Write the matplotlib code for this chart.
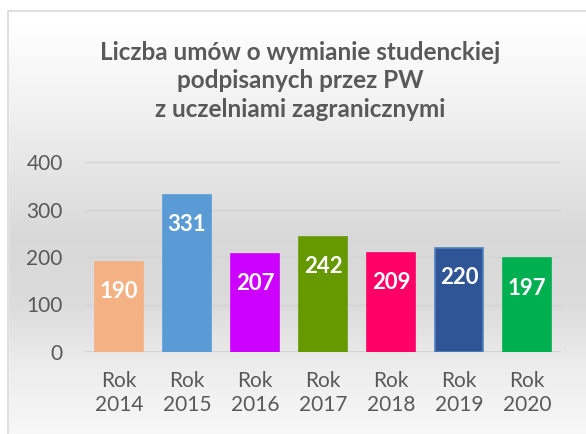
import numpy as np
import matplotlib
matplotlib.use("Agg")
import matplotlib.pyplot as plt
from matplotlib.patches import Rectangle

plt.rcParams['font.family'] = ['Lato', 'DejaVu Sans']

years = ["Rok\n2014", "Rok\n2015", "Rok\n2016", "Rok\n2017", "Rok\n2018", "Rok\n2019", "Rok\n2020"]
values = [190, 331, 207, 242, 209, 220, 197]
colors = ["#F4B183", "#5B9BD5", "#CC00FF", "#669900", "#FF0066", "#2F5597", "#00B050"]
edges = ["#F4B183", "#5B9BD5", "#CC00FF", "#669900", "#FF0066", "#4F81BD", "#00B050"]
title = "Liczba umów o wymianie studenckiej\npodpisanych przez PW\nz uczelniami zagranicznymi"

W, H = 586, 434
fig = plt.figure(figsize=(W / 100, H / 100), dpi=100)

# background gradient
bg = fig.add_axes([0, 0, 1, 1], zorder=0)
ys = np.linspace(0, 1, 400)  # 0 = top
stops_y = [0.0, 0.06, 0.30, 0.55, 0.70, 0.85, 1.0]
stops_v = [1.0, 1.0, 0.93, 0.85, 0.86, 0.93, 0.97]
vals = np.interp(ys, stops_y, stops_v)
img = np.repeat(vals[:, None], 2, axis=1)
bg.imshow(np.dstack([img, img, img]), aspect='auto', extent=[0, 1, 0, 1], interpolation='bilinear')
bg.set_xlim(0, 1); bg.set_ylim(0, 1)
bg.axis('off')
bg.add_patch(Rectangle((0, 1 - 11 / H), 1, 11 / H, color='white', zorder=2))
bg.add_patch(Rectangle((0, 0), 8 / W, 1, color='white', zorder=2))
bg.add_patch(Rectangle((8 / W, -0.1), 1.2, 1 - 11 / H + 0.1, fill=False, edgecolor='#d9d9d9', lw=1.2, zorder=3))

# main axes: x from 85 to 561 px, y 0 at 352 px, 400 at 162 px
left, right = 85 / W, 561 / W
bottom, top = 1 - 352 / H, 1 - 162 / H
ax = fig.add_axes([left, bottom, right - left, top - bottom], zorder=1)
ax.patch.set_alpha(0)

x = np.arange(len(values))
bars = ax.bar(x, values, width=0.72, color=colors, edgecolor=edges, linewidth=1.2, zorder=3)
ax.set_xlim(-0.5, len(values) - 0.5)
ax.set_ylim(0, 400)
ax.set_yticks([0, 100, 200, 300, 400])
ax.grid(axis='y', color='#d2d2d2', lw=0.9, zorder=0)
ax.axhline(0, color='#d0d0d0', lw=1.2, zorder=2)
for s in ax.spines.values():
    s.set_visible(False)
ax.tick_params(axis='both', length=0, labelsize=15, labelcolor='#595959')
ax.tick_params(axis='y', pad=16)
ax.tick_params(axis='x', pad=14)
ax.set_xticks(x)
ax.set_xticklabels(years, linespacing=1.25)

for xi, v in zip(x, values):
    ax.annotate(str(v), (xi, v), xytext=(0, -21.5), textcoords='offset points',
                ha='center', va='center', color='white', fontsize=16, fontweight='bold', zorder=5)

fig.text(300 / W, 1 - 81 / H, title, ha='center', va='center', fontsize=17.5,
         fontweight='bold', color='#595959', linespacing=1.3)

fig.savefig("out.png", dpi=100)
